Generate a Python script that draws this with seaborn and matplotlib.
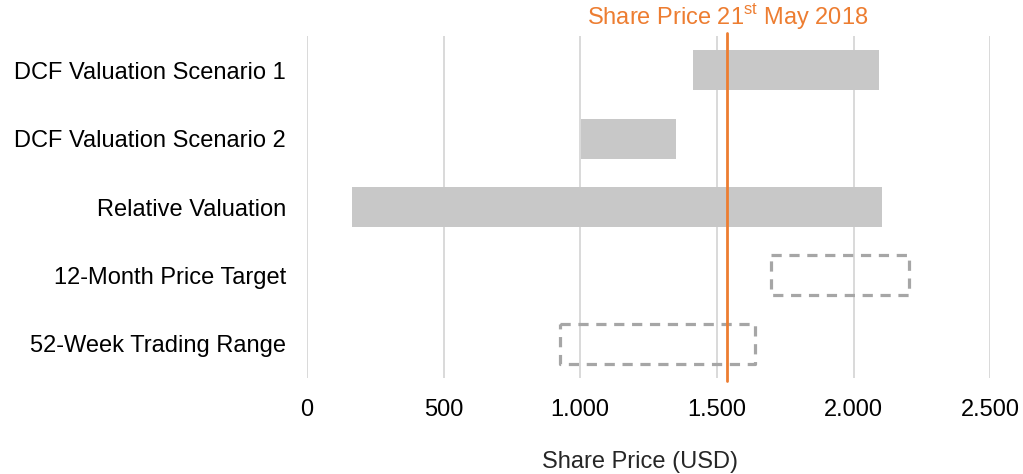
import matplotlib
matplotlib.use("Agg")
import matplotlib.pyplot as plt
import seaborn as sns
import pandas as pd

# Valuation ranges (USD per share)
categories = [
    "DCF Valuation Scenario 1",
    "DCF Valuation Scenario 2",
    "Relative Valuation",
    "12-Month Price Target",
    "52-Week Trading Range",
]
range_low = [1411, 1004, 166, 1697, 926]
range_high = [2093, 1349, 2103, 2203, 1641]
dashed_rows = ["12-Month Price Target", "52-Week Trading Range"]
current_price = 1538
price_label = "Share Price 21$^{\\mathrm{st}}$ May 2018"
x_ticks = [0, 500, 1000, 1500, 2000, 2500]
x_tick_labels = ["0", "500", "1.000", "1.500", "2.000", "2.500"]
x_title = "Share Price (USD)"

sns.set_style("white")
plt.rcParams["font.family"] = ["Liberation Sans", "DejaVu Sans"]
plt.rcParams["mathtext.fontset"] = "custom"
plt.rcParams["mathtext.rm"] = "Liberation Sans"

FS = 17

df = pd.DataFrame({"category": categories, "low": range_low, "high": range_high})

fig = plt.figure(figsize=(10.23, 4.74), dpi=100)
ax = fig.add_axes([0.300, 0.2025, 0.668, 0.7215])

sns.barplot(data=df, x="high", y="category", order=categories, color="#C8C8C8",
            width=0.585, saturation=1, ax=ax, zorder=2)

# Turn each bar into a floating low-to-high range
for patch, cat, lo, hi in zip(ax.patches, categories, range_low, range_high):
    patch.set_x(lo)
    patch.set_width(hi - lo)
    patch.set_linewidth(0)
    if cat in dashed_rows:
        patch.set_facecolor("none")
        patch.set_edgecolor("#A6A6A6")
        patch.set_linewidth(2.3)
        patch.set_linestyle((0, (3.2, 2.4)))
        patch.set_joinstyle("round")
        patch.set_capstyle("butt")

ax.set_xlim(0, 2500)
ax.set_ylim(len(categories) - 0.5, -0.5)
ax.set_xticks(x_ticks)
ax.set_xticklabels(x_tick_labels)
ax.xaxis.grid(True, color="#D9D9D9", linewidth=1.4, zorder=0)
ax.yaxis.grid(False)
ax.set_axisbelow(True)
for s in ax.spines.values():
    s.set_visible(False)
ax.tick_params(axis="both", length=0, labelsize=FS, colors="black")
ax.tick_params(axis="y", pad=15)
ax.tick_params(axis="x", pad=15)
ax.set_ylabel("")
ax.set_xlabel(x_title, fontsize=FS)
ax.xaxis.set_label_coords(0.488, -0.213)

# Current share price marker
ax.plot([current_price, current_price], [-0.55, len(categories) - 0.45],
        color="#ED7D31", linewidth=2, clip_on=False, zorder=4)
ax.text(current_price, -0.58, price_label, color="#ED7D31", fontsize=FS,
        ha="center", va="bottom")

fig.savefig("out.png", dpi=100)
